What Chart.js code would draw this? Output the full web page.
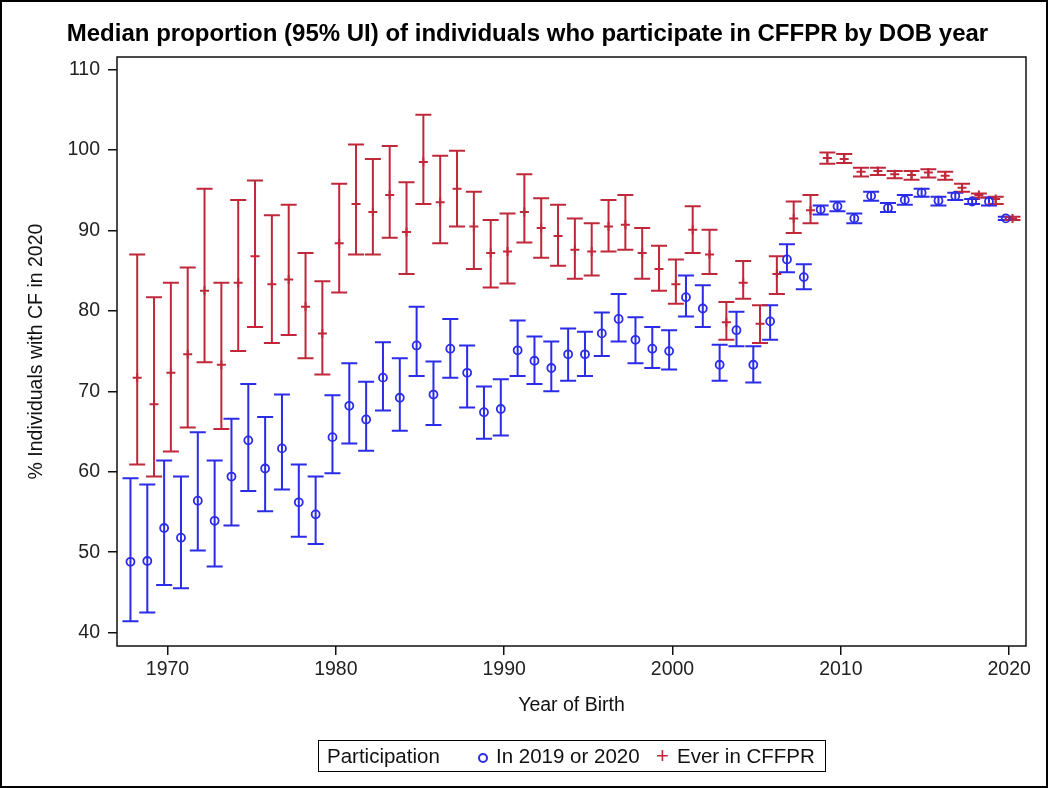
<!DOCTYPE html>
<html>
<head>
<meta charset="utf-8">
<script src="https://cdn.jsdelivr.net/npm/chart.js@4.4.1/dist/chart.umd.min.js"></script>
<style>
  body { margin: 0; background: #fff; }
  #wrap { position: relative; width: 1050px; height: 788px; font-family: "Liberation Sans", Arial, sans-serif; }
  #frame { position: absolute; left: 0; top: 0; width: 1048px; height: 788px; border: 2px solid #000; box-sizing: border-box; pointer-events: none; }
  #title { position: absolute; left: 0; top: 19px; width: 1055px; text-align: center; font-weight: bold; font-size: 24px; line-height: 28px; color: #000; }
  #legend { position: absolute; left: 318px; top: 740px; width: 508px; height: 32px; border: 1.5px solid #000; box-sizing: border-box; font-size: 20.5px; color: #111; }
  #legend span { position: absolute; top: 3px; line-height: 24px; white-space: nowrap; }
  .lg-circle { display: inline-block; width: 6px; height: 6px; border: 2px solid #2b2bea; border-radius: 50%; }
  canvas { position: absolute; left: 0; top: 0; }
</style>
</head>
<body>
<div id="wrap">
  <canvas id="chart" width="1050" height="788"></canvas>
  <div id="title">Median proportion (95% UI) of individuals who participate in CFFPR by DOB year</div>
  <div id="legend">
    <span style="left:8px">Participation</span>
    <span style="left:159px;top:12px;line-height:0"><i class="lg-circle"></i></span>
    <span style="left:177px">In 2019 or 2020</span>
    <span style="left:337px;color:#c0283a;font-size:22px">+</span>
    <span style="left:358px">Ever in CFFPR</span>
  </div>
  <div id="frame"></div>
</div>
<script>
// --- Data ---
const years = [1968, 1969, 1970, 1971, 1972, 1973, 1974, 1975, 1976, 1977,
  1978, 1979, 1980, 1981, 1982, 1983, 1984, 1985, 1986, 1987,
  1988, 1989, 1990, 1991, 1992, 1993, 1994, 1995, 1996, 1997,
  1998, 1999, 2000, 2001, 2002, 2003, 2004, 2005, 2006, 2007,
  2008, 2009, 2010, 2011, 2012, 2013, 2014, 2015, 2016, 2017,
  2018, 2019, 2020];

// In 2019 or 2020
const recentMed = [48.8, 48.9, 53.0, 51.8, 56.4, 53.9, 59.4, 63.9, 60.4, 62.9,
  56.2, 54.7, 64.3, 68.2, 66.5, 71.7, 69.2, 75.7, 69.6, 75.3,
  72.3, 67.4, 67.8, 75.1, 73.8, 72.9, 74.6, 74.6, 77.2, 79.0,
  76.4, 75.3, 75.0, 81.7, 80.3, 73.3, 77.6, 73.3, 78.7, 86.4,
  84.2, 92.6, 93.0, 91.5, 94.3, 92.8, 93.8, 94.7, 93.7, 94.3,
  93.6, 93.6, 91.5];
const recentLo = [41.4, 42.5, 45.9, 45.5, 50.2, 48.2, 53.3, 57.6, 55.1, 57.8,
  51.9, 51.0, 59.8, 63.5, 62.6, 67.6, 65.1, 71.9, 65.8, 71.7,
  68.0, 64.1, 64.5, 71.9, 70.9, 70.0, 71.3, 71.9, 74.4, 76.2,
  73.5, 72.9, 72.7, 79.3, 78.0, 71.3, 75.6, 71.1, 76.4, 84.8,
  82.7, 92.0, 92.4, 90.9, 93.7, 92.3, 93.2, 94.2, 93.1, 93.8,
  93.3, 93.1, 91.3];
const recentHi = [59.2, 58.4, 61.4, 59.4, 64.9, 61.4, 66.6, 70.9, 66.8, 69.6,
  60.9, 59.4, 69.5, 73.5, 71.2, 76.1, 74.1, 80.5, 73.7, 79.0,
  75.7, 70.6, 71.5, 78.8, 76.8, 76.2, 77.8, 77.4, 79.8, 82.1,
  79.2, 78.0, 77.6, 84.4, 83.2, 75.8, 79.9, 75.6, 80.7, 88.3,
  85.8, 93.1, 93.6, 92.1, 94.8, 93.4, 94.4, 95.2, 94.2, 94.7,
  93.9, 94.1, 91.7];

// Ever in CFFPR
const everMed = [71.7, 68.4, 72.3, 74.6, 82.5, 73.3, 83.5, 86.8, 83.3, 83.9,
  80.5, 77.2, 88.4, 93.3, 92.3, 94.4, 89.8, 98.5, 93.5, 95.2,
  90.5, 87.2, 87.4, 92.3, 90.3, 89.3, 87.6, 87.4, 90.5, 90.7,
  87.2, 85.2, 83.3, 90.1, 87.0, 78.6, 83.5, 78.4, 84.6, 91.5,
  92.5, 99.0, 98.9, 97.3, 97.4, 97.0, 96.9, 97.2, 96.8, 95.3,
  94.4, 93.9, 91.5];
const everLo = [60.9, 59.4, 62.5, 65.5, 73.6, 65.3, 75.0, 78.0, 76.0, 77.0,
  74.1, 72.1, 82.3, 87.0, 87.0, 89.1, 84.6, 93.3, 88.4, 90.5,
  85.2, 82.9, 83.4, 88.5, 86.6, 85.6, 84.0, 84.4, 87.4, 87.6,
  84.0, 82.5, 80.9, 87.2, 84.6, 76.4, 81.5, 76.0, 82.1, 89.7,
  90.9, 98.3, 98.4, 96.7, 96.9, 96.5, 96.3, 96.6, 96.3, 94.8,
  94.1, 93.3, 91.3];
const everHi = [87.0, 81.7, 83.5, 85.4, 95.2, 83.5, 93.8, 96.2, 91.9, 93.2,
  87.2, 83.7, 95.8, 100.7, 98.9, 100.5, 96.0, 104.4, 99.3, 99.9,
  94.8, 91.3, 92.1, 97.0, 94.0, 93.2, 91.5, 90.9, 93.8, 94.4,
  90.3, 88.1, 86.4, 93.0, 90.1, 81.1, 86.2, 80.7, 86.8, 93.6,
  94.4, 99.7, 99.5, 97.8, 97.8, 97.4, 97.4, 97.6, 97.3, 95.8,
  94.6, 94.2, 91.7];

const xTicks = [1970, 1980, 1990, 2000, 2010, 2020];
const yTicks = [40, 50, 60, 70, 80, 90, 100, 110];

const BLUE = "#2b2bea";
const RED = "#c0283a";
const CLUSTER = 0.2; // half-gap between the two groups in a year

// whiskers + caps, drawn under the markers
const errorBars = {
  id: "errorBars",
  beforeDatasetsDraw(chart) {
    const ctx = chart.ctx;
    const xs = chart.scales.x, ys = chart.scales.y;
    chart.data.datasets.forEach(ds => {
      ctx.save();
      ctx.strokeStyle = ds.borderColor;
      ctx.lineWidth = 2;
      ds.data.forEach((p, i) => {
        const x = xs.getPixelForValue(p.x);
        const yl = ys.getPixelForValue(ds.lo[i]);
        const yh = ys.getPixelForValue(ds.hi[i]);
        ctx.beginPath();
        ctx.moveTo(x, yl); ctx.lineTo(x, yh);
        ctx.moveTo(x - 8, yl); ctx.lineTo(x + 8, yl);
        ctx.moveTo(x - 8, yh); ctx.lineTo(x + 8, yh);
        ctx.stroke();
      });
      ctx.restore();
    });
  }
};

// box around plot area
const frame = {
  id: "frame",
  afterDraw(chart) {
    const a = chart.chartArea, ctx = chart.ctx;
    ctx.save();
    ctx.strokeStyle = "#111";
    ctx.lineWidth = 1.5;
    ctx.strokeRect(a.left, a.top, a.right - a.left, a.bottom - a.top);
    ctx.restore();
  }
};

const font = { family: "'Liberation Sans', Arial, sans-serif", size: 19.5 };

new Chart(document.getElementById("chart"), {
  type: "scatter",
  data: {
    datasets: [
      {
        label: "In 2019 or 2020",
        data: years.map((y, i) => ({ x: y - CLUSTER, y: recentMed[i] })),
        lo: recentLo,
        hi: recentHi,
        borderColor: BLUE,
        backgroundColor: "rgba(0,0,0,0)",
        pointStyle: "circle",
        pointRadius: 4,
        borderWidth: 1.8
      },
      {
        label: "Ever in CFFPR",
        data: years.map((y, i) => ({ x: y + CLUSTER, y: everMed[i] })),
        lo: everLo,
        hi: everHi,
        borderColor: RED,
        backgroundColor: RED,
        pointStyle: "cross",
        pointRadius: 4.5,
        borderWidth: 2
      }
    ]
  },
  options: {
    responsive: false,
    animation: false,
    layout: { padding: { left: 0, top: 57, right: 24, bottom: 62 } },
    plugins: {
      legend: { display: false },
      tooltip: { enabled: false }
    },
    scales: {
      x: {
        type: "linear",
        min: 1967,
        max: 2021,
        afterBuildTicks: s => { s.ticks = xTicks.map(v => ({ value: v })); },
        afterFit: s => { s.height = 80; },
        border: { display: false },
        grid: { drawOnChartArea: false, drawTicks: true, tickLength: 9, color: "#111", lineWidth: 1.5 },
        ticks: { color: "#222", font: font, padding: 3, maxRotation: 0, callback: v => String(v) },
        title: { display: true, text: "Year of Birth", color: "#111", font: font, padding: { top: 0, bottom: 9 } }
      },
      y: {
        min: 38.33,
        max: 111.57,
        afterBuildTicks: s => { s.ticks = yTicks.map(v => ({ value: v })); },
        afterFit: s => { s.width = 117; },
        border: { display: false },
        grid: { drawOnChartArea: false, drawTicks: true, tickLength: 9, color: "#111", lineWidth: 1.5 },
        ticks: { color: "#222", font: font, padding: 8 },
        title: { display: true, text: "% Individuals with CF in 2020", color: "#111", font: font, padding: { top: 25, bottom: 0 } }
      }
    }
  },
  plugins: [errorBars, frame]
});
</script>
</body>
</html>
